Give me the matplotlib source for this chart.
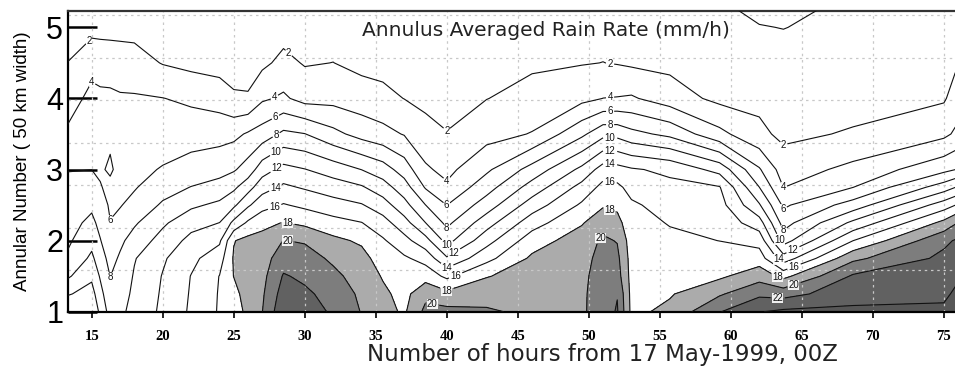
import numpy as np
import matplotlib
matplotlib.use("Agg")
import matplotlib.pyplot as plt

# ---------------- data ----------------
hours = [13.3, 15, 15.6, 16.3, 17, 18, 20, 22, 24, 25, 26, 27, 28.5, 30, 32, 34,
         35.5, 37, 38.5, 40, 42.8, 46, 49.5, 51, 52, 53, 55.7, 59.2, 62, 63.7,
         68.6, 75, 75.8]
annuli = [1.0, 1.25, 1.5, 1.75, 2.0, 2.25, 2.5, 2.75, 3.0, 3.5, 4.0, 4.5, 5.0, 5.25]

# rain rate (mm/h); one list per hour, values ordered by annulus
rain_by_hour = [
    [14.0, 11.8, 9.7, 8.3, 7.66, 7.24, 6.81, 6.39, 5.94, 4.32, 3.11, 2.02, 1.3, 1.0],      # 13.3
    [14.0, 12.8, 11.6, 10.4, 9.4, 8.5, 7.6, 6.8, 5.99, 5.26, 4.54, 3.38, 1.4, 1.0],         # 15
    [11.5, 10.65, 9.8, 8.95, 8.1, 7.43, 6.78, 6.13, 5.73, 5.07, 4.4, 3.18, 1.4, 1.0],       # 15.6
    [9.2, 8.6, 7.97, 7.33, 6.7, 6.05, 5.77, 5.5, 6.3, 5.6, 4.4, 3.06, 1.4, 1.0],            # 16.3
    [9.6, 9.16, 8.71, 8.27, 7.6, 6.6, 5.89, 5.61, 5.33, 4.78, 4.22, 2.93, 1.4, 1.0],        # 17
    [10.6, 10.4, 10.18, 9.87, 8.81, 7.73, 6.59, 5.84, 5.51, 4.86, 4.2, 2.77, 1.4, 1.0],     # 18
    [12.4, 12.25, 12.1, 11.73, 10.75, 9.67, 8.28, 7.17, 6.13, 5.05, 4.04, 1.9, 1.2, 0.9],   # 20
    [14.3, 14.18, 14.06, 13.51, 12.57, 11.31, 9.63, 8.06, 6.83, 5.13, 3.64, 1.46, 1.1, 0.9],# 22
    [16.2, 16.15, 16.05, 15.14, 13.67, 12.02, 10.44, 8.71, 7.33, 5.27, 3.14, 1.2, 1.0, 0.8],# 24
    [16.5, 17.3, 18.05, 18.2, 17.9, 14.5, 11.6, 9.6, 7.78, 5.5, 2.3, 1.1, 0.9, 0.8],        # 25
    [18.8, 19.0, 19.1, 18.9, 18.6, 16.33, 13.7, 11.2, 8.87, 6.22, 2.2, 1.2, 0.9, 0.8],      # 26
    [19.95, 19.7, 19.4, 19.1, 18.6, 17.5, 15.2, 13.2, 11.1, 6.89, 3.7, 1.56, 1.0, 0.8],     # 27
    [23.6, 22.9, 22.17, 21.14, 20.05, 18.08, 16.15, 14.36, 12.62, 8.42, 4.32, 2.54, 1.2, 0.9],  # 28.5
    [23.0, 22.36, 21.63, 20.78, 19.82, 17.58, 15.57, 13.79, 12.07, 8.05, 3.3, 1.85, 1.1, 0.9],  # 30
    [21.7, 21.3, 20.45, 19.67, 18.48, 16.7, 14.79, 13.0, 11.08, 6.56, 3.35, 2.02, 1.2, 1.0],    # 32
    [19.9, 19.6, 19.2, 18.7, 17.68, 16.06, 14.15, 12.23, 9.97, 5.28, 2.89, 1.5, 1.1, 0.9],      # 34
    [18.7, 18.4, 17.84, 17.05, 16.25, 14.79, 12.92, 10.87, 8.93, 4.64, 2.51, 1.4, 1.0, 0.9],    # 35.5
    [17.7, 17.35, 17.0, 16.3, 14.67, 12.8, 10.7, 8.94, 7.09, 3.88, 1.97, 1.2, 0.9, 0.8],        # 37
    [20.5, 19.5, 17.16, 15.3, 12.74, 10.02, 8.02, 5.82, 4.3, 2.7, 1.5, 1.1, 0.9, 0.8],          # 38.5
    [20.6, 18.56, 15.57, 12.25, 9.31, 7.52, 5.98, 4.33, 3.44, 2.06, 1.4, 1.0, 0.9, 0.8],        # 40
    [20.3, 19.07, 17.9, 15.39, 13.25, 11.13, 8.96, 7.18, 5.64, 3.27, 1.96, 1.4, 1.0, 0.9],      # 42.8
    [19.5, 19.2, 18.8, 18.35, 17.07, 15.13, 12.96, 10.83, 8.75, 4.1, 2.68, 1.7, 1.1, 0.9],      # 46
    [19.7, 19.7, 19.6, 19.4, 19.0, 17.82, 16.3, 14.67, 12.5, 7.55, 3.45, 1.9, 1.2, 1.0],        # 49.5
    [21.0, 20.9, 20.8, 20.6, 20.3, 19.33, 17.77, 16.6, 14.9, 9.41, 4.02, 2.02, 1.4, 1.1],       # 51
    [22.2, 21.9, 20.9, 20.5, 19.9, 18.67, 17.56, 16.44, 14.7, 9.4, 4.1, 1.9, 1.3, 1.1],         # 52
    [17.5, 17.4, 17.3, 17.2, 17.0, 16.7, 16.3, 15.33, 14.22, 8.59, 4.24, 1.7, 1.3, 1.1],        # 53
    [18.5, 17.81, 17.34, 16.87, 16.4, 15.89, 15.22, 14.54, 13.55, 7.5, 2.97, 1.5, 1.1, 1.0],    # 55.7
    [21.9, 19.75, 17.64, 16.82, 15.98, 15.38, 14.75, 14.13, 11.29, 4.56, 1.5, 1.1, 0.9, 1.6],   # 59.2
    [23.9, 21.58, 19.2, 17.0, 15.25, 12.89, 10.21, 8.02, 6.21, 2.46, 1.5, 1.2, 1.9, 2.5],       # 62
    [24.4, 21.25, 17.45, 12.89, 9.14, 7.21, 5.67, 3.98, 3.04, 1.55, 1.2, 1.1, 2.05, 2.6],       # 63.7
    [24.4, 23.25, 22.27, 19.54, 15.98, 12.46, 8.86, 5.98, 4.53, 2.2, 1.2, 1.1, 1.3, 1.4],       # 68.6
    [24.4, 23.6, 23.03, 22.47, 21.58, 18.57, 15.0, 11.0, 7.44, 3.53, 1.78, 1.4, 1.2, 1.1],      # 75
    [25.0, 24.3, 23.57, 22.86, 22.14, 19.82, 15.98, 11.98, 7.98, 4.29, 2.8, 1.7, 1.3, 1.2],     # 75.8
]

line_levels = [2, 4, 6, 8, 10, 12, 14, 16, 18, 20, 22, 24]
shade_levels = [18, 20, 22, 24, 30]
x_ticks = [15, 20, 25, 30, 35, 40, 45, 50, 55, 60, 65, 70, 75]
y_ticks = [1, 2, 3, 4, 5]
grid_y = [1.585, 2.183, 2.781, 3.379, 3.977, 4.575, 5.173]

# where the reference shows its contour labels (hour, annulus)
label_spots = [
    (14.9, 4.79), (15.0, 4.37), (16.2, 2.27), (16.2, 1.49),
    (29.0, 4.67), (27.8, 4.04), (27.8, 3.79), (27.8, 3.55), (27.8, 3.31),
    (27.8, 3.09), (27.8, 2.80), (27.8, 2.52), (28.8, 2.26), (28.8, 2.02),
    (40.0, 3.52), (40.0, 2.80), (40.0, 2.50), (40.0, 2.17), (40.0, 1.91),
    (40.6, 1.80), (40.0, 1.61), (40.6, 1.52), (40.0, 1.30), (39.0, 1.15),
    (51.5, 4.50), (51.5, 4.00), (51.5, 3.80), (51.5, 3.62), (51.5, 3.45),
    (51.5, 3.29), (51.5, 3.10), (51.5, 2.88), (51.5, 2.46), (50.5, 2.10),
    (63.7, 3.27), (63.7, 2.75), (63.7, 2.45), (63.7, 2.12), (63.5, 2.01),
    (64.4, 1.86), (63.3, 1.72), (64.4, 1.66), (63.3, 1.50), (64.4, 1.40),
    (63.3, 1.17),
]

# ---------------- figure ----------------
W, H = 955, 380
fig = plt.figure(figsize=(W / 100, H / 100), dpi=100)
ax = fig.add_axes([68 / W, 1 - 311.7 / H, 1 - 68 / W, (311.7 - 11) / H])

Z = np.array(rain_by_hour).T

ax.contourf(hours, annuli, Z, levels=shade_levels,
            colors=['#ababab', '#7d7d7d', '#616161', '#575757'], zorder=1)

for gx in x_ticks:
    ax.axvline(gx, color='#c8c8c8', lw=0.9, ls=(0, (2, 3)), zorder=2)
for gy in grid_y:
    ax.axhline(gy, color='#c8c8c8', lw=0.9, ls=(0, (2, 3)), zorder=2)

cs = ax.contour(hours, annuli, Z, levels=line_levels, colors='#111111',
                linewidths=0.8, zorder=3)
texts = ax.clabel(cs, manual=label_spots, inline=True, inline_spacing=1,
                  fontsize=7, fmt='%d')
for t in texts:
    t.set_rotation(0)
    t.set_family('Liberation Sans')
    t.set_bbox(dict(facecolor='white', edgecolor='none', pad=0.1, alpha=0.9))
    t.set_zorder(5)

ax.set_xlim(13.33, 75.78)
ax.set_ylim(1.0, 5.23)

ax.set_xticks(x_ticks)
ax.set_xticklabels([str(v) for v in x_ticks], family='Liberation Serif',
                   fontweight='bold', fontsize=10.5)
ax.set_yticks(y_ticks)
ax.set_yticklabels([str(v) for v in y_ticks], family='Liberation Sans',
                   fontsize=22)
ax.tick_params(axis='x', direction='out', length=4, width=1.2, pad=9)
ax.tick_params(axis='y', direction='in', length=21, width=1.8, pad=3.5)

for side in ('left', 'bottom'):
    ax.spines[side].set_linewidth(1.6)
    ax.spines[side].set_color('black')
ax.spines['top'].set_linewidth(1.6)
ax.spines['top'].set_color('#333333')
ax.spines['right'].set_visible(False)

ax.set_ylabel('Annular Number ( 50 km width)', family='Liberation Sans',
              fontsize=13.5)
ax.yaxis.set_label_coords(-0.042, 0.5)

fig.text(546 / W, 1 - 30 / H, 'Annulus Averaged Rain Rate (mm/h)',
         family='DejaVu Sans', fontsize=14.5, ha='center', va='center',
         color='#222222')
fig.text(602 / W, 1 - 355 / H, 'Number of hours from 17 May-1999, 00Z',
         family='DejaVu Sans', fontsize=16.5, ha='center', va='center',
         color='#222222')

fig.savefig('out.png', dpi=100)
